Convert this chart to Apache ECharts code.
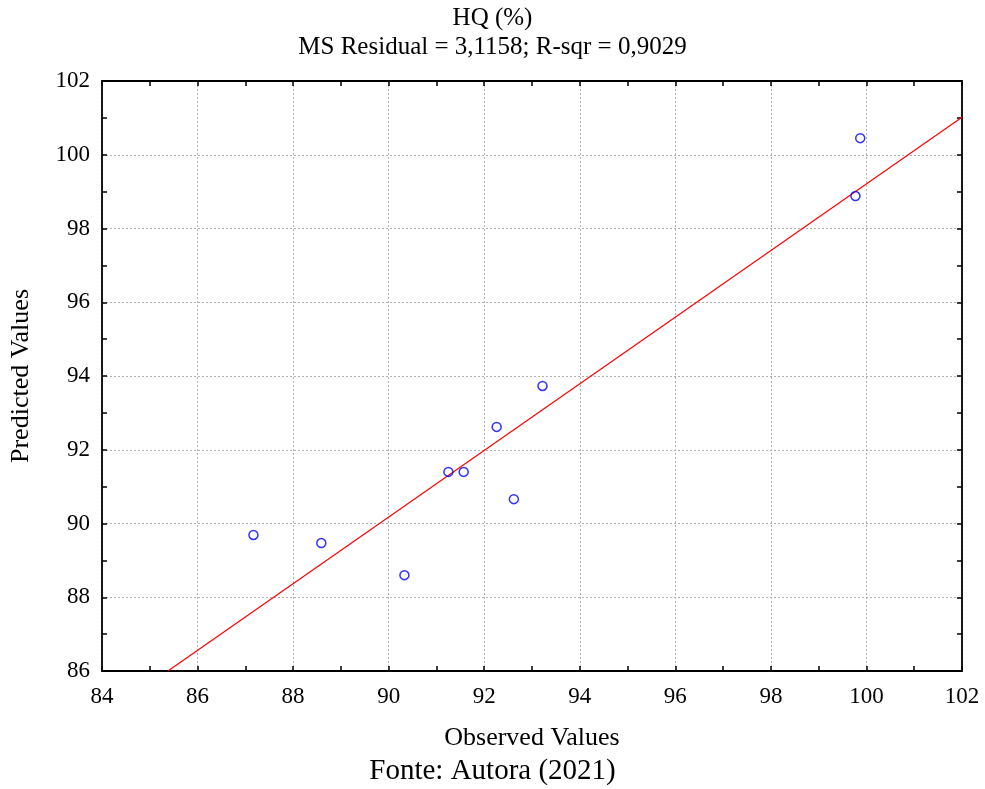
<!DOCTYPE html>
<html>
<head>
<meta charset="utf-8">
<script src="https://cdn.jsdelivr.net/npm/echarts@6/dist/echarts.min.js"></script>
<style>html,body{margin:0;padding:0;background:#fff}#c{width:985px;height:789px}</style>
</head>
<body>
<div id="c"></div>
<script>
const observed = [87.17, 88.59, 90.33, 91.25, 91.57, 92.26, 92.62, 93.22, 99.77, 99.87];
const predicted = [89.69, 89.47, 88.60, 91.40, 91.40, 92.62, 90.66, 93.73, 98.88, 100.45];
const fitX = [85.38, 102];
const fitY = [86, 101.02];
const titleText = "HQ (%)";
const subText = "MS Residual = 3,1158; R-sqr = 0,9029";
const sourceText = "Fonte: Autora (2021)";

const F = "Liberation Serif";
const chart = echarts.init(document.getElementById('c'), null, {renderer: 'canvas'});
const axisCommon = {
  axisLine: {show: true, lineStyle: {color: '#000', width: 1.8}},
  axisTick: {show: true, inside: true, length: 5, lineStyle: {color: '#000', width: 1.5}},
  minorTick: {show: true, splitNumber: 2, length: 5, lineStyle: {color: '#000', width: 1.5}},
};
chart.setOption({
  animation: false,
  backgroundColor: '#fff',
  title: [
    {text: titleText, left: 'center', top: 1, textStyle: {fontFamily: F, fontSize: 25, fontWeight: 'normal', color: '#000'}},
    {text: subText, left: 'center', top: 30, textStyle: {fontFamily: F, fontSize: 25, fontWeight: 'normal', color: '#000'}},
    {text: sourceText, left: 'center', top: 752, textStyle: {fontFamily: F, fontSize: 29, fontWeight: 'normal', color: '#000'}}
  ],
  grid: {left: 102, right: 23, top: 81, bottom: 118},
  xAxis: [
    Object.assign({
      type: 'value', min: 84, max: 102, interval: 2, position: 'bottom',
      name: 'Observed Values', nameLocation: 'middle', nameGap: 54,
      nameTextStyle: {fontFamily: F, fontSize: 26, color: '#000'},
      axisLabel: {fontFamily: F, fontSize: 23, color: '#000', margin: 14},
      splitLine: {show: true, lineStyle: {color: '#b0b0b0', type: [2, 2], width: 1}}
    }, axisCommon),
    Object.assign({
      type: 'value', min: 84, max: 102, interval: 2, position: 'top',
      axisLabel: {show: false}, splitLine: {show: false}
    }, axisCommon)
  ],
  yAxis: [
    Object.assign({
      type: 'value', min: 86, max: 102, interval: 2, position: 'left',
      name: 'Predicted Values', nameLocation: 'middle', nameGap: 68,
      nameTextStyle: {fontFamily: F, fontSize: 26, color: '#000'},
      axisLabel: {fontFamily: F, fontSize: 23, color: '#000', margin: 12},
      splitLine: {show: true, lineStyle: {color: '#b0b0b0', type: [2, 2], width: 1}}
    }, axisCommon),
    Object.assign({
      type: 'value', min: 86, max: 102, interval: 2, position: 'right',
      axisLabel: {show: false}, splitLine: {show: false}
    }, axisCommon)
  ],
  series: [
    {
      type: 'line', xAxisIndex: 0, yAxisIndex: 0,
      data: fitX.map((x, i) => [x, fitY[i]]),
      symbol: 'none', lineStyle: {color: '#ff0000', width: 1.2}, z: 2
    },
    {
      type: 'scatter', xAxisIndex: 0, yAxisIndex: 0,
      data: observed.map((x, i) => [x, predicted[i]]),
      symbol: 'circle', symbolSize: 9,
      itemStyle: {color: 'rgba(0,0,0,0)', borderColor: '#0000ff', borderWidth: 1.5}, z: 3
    }
  ]
});
</script>
</body>
</html>
